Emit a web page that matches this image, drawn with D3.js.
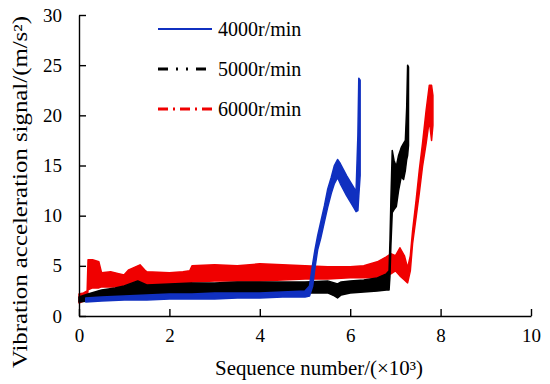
<!DOCTYPE html>
<html>
<head>
<meta charset="utf-8">
<script src="https://cdn.jsdelivr.net/npm/d3@7"></script>
<style>
	body { margin: 0; background: #fff; }
	.axis path, .axis line { stroke: #000; stroke-width: 1.4; }
</style>
</head>
<body>
<div id="chart"></div>
<script>
let width = 550
let height = 384

let margins = {
	top : 15,
	right : 19,
	bottom : 68,
	left : 79,
}

let serif = 'Liberation Serif'

// readings (x in 10^3, lower / upper edge of the signal band)
let blueX  = [0.15, 0.5, 1.0, 1.5, 2.0, 2.5, 3.0, 3.5, 4.0, 4.5, 5.0, 5.1, 5.17, 5.22, 5.28, 5.35, 5.43, 5.5, 5.58, 5.65, 5.72, 5.78, 5.85, 5.92, 6.0, 6.08, 6.13, 6.17, 6.19, 6.22]
let blueLo = [1.4, 1.5, 1.6, 1.6, 1.7, 1.7, 1.7, 1.8, 1.8, 1.9, 1.9, 2.0, 3.0, 4.8, 6.6, 7.8, 9.4, 10.8, 12.2, 13.2, 13.8, 13.2, 12.6, 12.0, 11.4, 10.8, 10.4, 10.5, 12.0, 14.0]
let blueHi = [1.8, 1.9, 2.0, 2.1, 2.2, 2.2, 2.3, 2.3, 2.3, 2.4, 2.5, 3.0, 5.2, 6.6, 8.0, 9.4, 11.0, 12.6, 13.8, 15.0, 15.6, 15.2, 14.6, 14.0, 13.4, 12.8, 12.4, 18.0, 23.7, 23.5]

let blackX  = [0.0, 0.2, 0.5, 0.8, 1.0, 1.3, 1.5, 2.0, 2.5, 3.0, 3.5, 4.0, 4.5, 5.0, 5.5, 5.65, 5.72, 5.8, 6.0, 6.3, 6.6, 6.8, 6.86, 6.88, 6.9, 6.93, 6.97, 7.02, 7.07, 7.13, 7.18, 7.22, 7.25, 7.27, 7.29]
let blackLo = [1.4, 1.5, 1.6, 1.7, 1.7, 1.8, 1.8, 1.9, 2.0, 2.1, 2.2, 2.2, 2.3, 2.3, 2.3, 2.0, 1.8, 2.1, 2.3, 2.4, 2.5, 2.6, 2.6, 4.0, 7.0, 10.3, 10.6, 10.9, 12.5, 13.9, 13.6, 14.5, 15.6, 16.0, 17.0]
let blackHi = [1.9, 2.2, 2.6, 2.8, 3.0, 3.5, 3.1, 3.2, 3.3, 3.3, 3.4, 3.4, 3.4, 3.4, 3.5, 3.3, 3.2, 3.4, 3.5, 3.6, 3.8, 4.2, 4.5, 7.5, 11.5, 16.5, 15.5, 14.9, 16.0, 16.8, 17.2, 17.5, 20.8, 25.0, 24.8]

let redX  = [0.0, 0.1, 0.18, 0.2, 0.3, 0.44, 0.5, 0.7, 0.9, 1.0, 1.1, 1.2, 1.35, 1.45, 1.5, 2.0, 2.3, 2.45, 2.5, 3.0, 3.5, 4.0, 4.5, 5.0, 5.5, 6.0, 6.3, 6.6, 6.8, 6.9, 7.0, 7.1, 7.2, 7.27, 7.33, 7.38, 7.46, 7.53, 7.6, 7.68, 7.75, 7.8, 7.83]
let redLo = [1.3, 1.5, 1.6, 2.6, 2.8, 2.8, 2.9, 2.9, 2.9, 2.9, 3.0, 3.0, 3.0, 3.0, 3.0, 3.0, 3.1, 3.2, 3.4, 3.5, 3.5, 3.5, 3.6, 3.7, 3.7, 3.8, 3.8, 3.8, 4.0, 4.2, 4.5, 4.0, 3.6, 3.3, 4.5, 7.2, 9.9, 12.3, 14.9, 17.2, 19.5, 17.5, 19.0]
let redHi = [2.2, 2.3, 2.5, 5.6, 5.6, 5.4, 4.3, 4.4, 4.2, 4.1, 4.6, 4.8, 5.1, 4.6, 4.4, 4.3, 4.4, 4.5, 5.0, 5.1, 5.0, 5.2, 5.1, 5.0, 4.9, 4.9, 5.0, 5.4, 5.9, 6.2, 6.0, 6.8, 6.0, 4.8, 6.0, 8.5, 11.6, 14.6, 17.2, 20.5, 23.0, 23.0, 22.0]

let seriesNames = ['4000r/min', '5000r/min', '6000r/min']
let xTicks = [0, 2, 4, 6, 8, 10]
let yTicks = [0, 5, 10, 15, 20, 25, 30]

function toRows(xs, lo, hi) {
	return xs.map((x, i) => ({ x : x, lo : lo[i], hi : hi[i] }))
}

let series = [
	{ name : seriesNames[2], rows : toRows(redX, redLo, redHi), color : '#f00000', dash : '10,5,2,5', lw : 3 },
	{ name : seriesNames[1], rows : toRows(blackX, blackLo, blackHi), color : '#000000', dash : '10,8,2,8,2,8', lw : 3 },
	{ name : seriesNames[0], rows : toRows(blueX, blueLo, blueHi), color : '#1030c0', dash : null, lw : 2 },
]

let xScale = d3.scaleLinear()
	.domain([0, 10])
	.range([margins.left, width - margins.right])

let yScale = d3.scaleLinear()
	.domain([0, 30])
	.range([height - margins.bottom, margins.top])

let svg = d3.select('#chart').append('svg')
	.attr('width', width)
	.attr('height', height)

let area = d3.area()
	.x((d) => xScale(d.x))
	.y0((d) => yScale(d.lo))
	.y1((d) => yScale(d.hi))

let marks = svg.append('g')

series.forEach((s) => {
	marks.append('path')
		.datum(s.rows)
		.attr('d', area)
		.attr('fill', s.color)
		.attr('stroke', s.color)
		.attr('stroke-width', 1.5)
		.attr('stroke-linejoin', 'round')
})

// axes, ticks pointing inward
let xAxis = d3.axisBottom(xScale)
	.tickValues(xTicks)
	.tickSizeInner(-7)
	.tickSizeOuter(0)
	.tickPadding(13)

let yAxis = d3.axisLeft(yScale)
	.tickValues(yTicks)
	.tickSizeInner(-7)
	.tickSizeOuter(0)
	.tickPadding(17)

svg.append('g')
	.attr('class', 'axis')
	.attr('transform', `translate(0,${height - margins.bottom})`)
	.call(xAxis)
	.selectAll('text')
	.style('font-family', serif)
	.style('font-size', '19px')
	.style('fill', '#000')

svg.append('g')
	.attr('class', 'axis')
	.attr('transform', `translate(${margins.left},0)`)
	.call(yAxis)
	.selectAll('text')
	.style('font-family', serif)
	.style('font-size', '19px')
	.style('fill', '#000')

// axis titles
svg.append('text')
	.attr('x', 319)
	.attr('y', 375)
	.attr('text-anchor', 'middle')
	.attr('textLength', 208)
	.attr('lengthAdjust', 'spacingAndGlyphs')
	.style('font-family', serif)
	.style('font-size', '20px')
	.text('Sequence number/(×10³)')

svg.append('text')
	.attr('transform', 'translate(27,192) rotate(-90)')
	.attr('text-anchor', 'middle')
	.attr('textLength', 352)
	.attr('lengthAdjust', 'spacingAndGlyphs')
	.style('font-family', serif)
	.style('font-size', '20px')
	.text('Vibration acceleration signal/(m/s²)')

// legend
let legend = svg.append('g')
let legendItems = [series[2], series[1], series[0]]

legendItems.forEach((s, i) => {
	let ly = 29 + i * 40
	legend.append('line')
		.attr('x1', 158)
		.attr('x2', 212)
		.attr('y1', ly)
		.attr('y2', ly)
		.attr('stroke', s.color)
		.attr('stroke-width', s.lw)
		.attr('stroke-dasharray', s.dash)
	legend.append('text')
		.attr('x', 218)
		.attr('y', ly + 7)
		.style('font-family', serif)
		.style('font-size', '20px')
		.text(s.name)
})
</script>
</body>
</html>
